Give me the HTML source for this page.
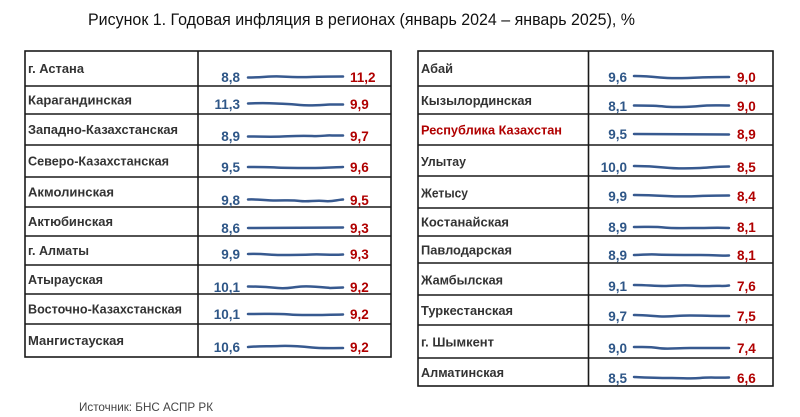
<!DOCTYPE html>
<html><head><meta charset="utf-8"><style>
html,body{margin:0;padding:0;background:#fff;}
svg{display:block;}
.t{font-family:"Liberation Sans","Noto Sans CJK SC",sans-serif;}
.lb{font-weight:bold;font-size:13px;fill:#333;}
.nb{font-weight:bold;font-size:13.5px;fill:#2e5687;}
.nr{font-weight:bold;font-size:13.5px;fill:#b00000;}
.sp{fill:none;stroke:#37598f;stroke-width:2.5;stroke-linecap:round;stroke-linejoin:round;}
.b{stroke:#1a1a1a;stroke-width:1.6;fill:none;}
</style></head><body>
<svg width="800" height="417" viewBox="0 0 800 417" xmlns="http://www.w3.org/2000/svg">
<rect width="800" height="417" fill="#fff"/>
<text class="t" x="88" y="25" font-size="17" fill="#111" textLength="547" lengthAdjust="spacingAndGlyphs">Рисунок 1. Годовая инфляция в регионах (январь 2024 – январь 2025), %</text>

<!-- LEFT TABLE -->
<rect class="b" x="25" y="51" width="366" height="306"/>
<line class="b" x1="198" y1="51" x2="198" y2="357"/>
<g class="b">
<line x1="25" y1="86" x2="391" y2="86"/>
<line x1="25" y1="114" x2="391" y2="114"/>
<line x1="25" y1="145" x2="391" y2="145"/>
<line x1="25" y1="177" x2="391" y2="177"/>
<line x1="25" y1="207" x2="391" y2="207"/>
<line x1="25" y1="236" x2="391" y2="236"/>
<line x1="25" y1="265" x2="391" y2="265"/>
<line x1="25" y1="294" x2="391" y2="294"/>
<line x1="25" y1="324" x2="391" y2="324"/>
</g>
<g class="t lb">
<text x="28" y="73" textLength="56" lengthAdjust="spacingAndGlyphs">г. Астана</text>
<text x="28" y="104.5" textLength="104" lengthAdjust="spacingAndGlyphs">Карагандинская</text>
<text x="28" y="134" textLength="150" lengthAdjust="spacingAndGlyphs">Западно-Казахстанская</text>
<text x="28" y="165.5" textLength="141" lengthAdjust="spacingAndGlyphs">Северо-Казахстанская</text>
<text x="28" y="196.5" textLength="86" lengthAdjust="spacingAndGlyphs">Акмолинская</text>
<text x="28" y="226" textLength="85" lengthAdjust="spacingAndGlyphs">Актюбинская</text>
<text x="28" y="255" textLength="61" lengthAdjust="spacingAndGlyphs">г. Алматы</text>
<text x="28" y="284" textLength="75" lengthAdjust="spacingAndGlyphs">Атырауская</text>
<text x="28" y="313.5" textLength="154" lengthAdjust="spacingAndGlyphs">Восточно-Казахстанская</text>
<text x="28" y="345" textLength="96" lengthAdjust="spacingAndGlyphs">Мангистауская</text>
</g>
<g class="t nb" text-anchor="end">
<text x="240" y="82">8,8</text>
<text x="240" y="109">11,3</text>
<text x="240" y="141">8,9</text>
<text x="240" y="172">9,5</text>
<text x="240" y="205">9,8</text>
<text x="240" y="233">8,6</text>
<text x="240" y="259">9,9</text>
<text x="240" y="292">10,1</text>
<text x="240" y="319">10,1</text>
<text x="240" y="352">10,6</text>
</g>
<g class="t nr">
<text x="350" y="82">11,2</text>
<text x="350" y="109">9,9</text>
<text x="350" y="141">9,7</text>
<text x="350" y="172">9,6</text>
<text x="350" y="205">9,5</text>
<text x="350" y="233">9,3</text>
<text x="350" y="259">9,3</text>
<text x="350" y="292">9,2</text>
<text x="350" y="319">9,2</text>
<text x="350" y="352">9,2</text>
</g>
<g class="sp">
<path d="M248 77.5 C262 77.5 270 76 280 76.5 S300 77.5 310 77 S330 76.5 343 76.5"/>
<path d="M248 103.5 C260 103 266 103 276 103.5 S290 104 300 105 S320 105 330 104.5 L343 104.5"/>
<path d="M248 136.5 C262 136.5 270 137 282 136.5 S300 135.5 312 136 S325 135 332 135.5 L343 135.5"/>
<path d="M248 167 C262 167 268 167 276 167.5 S296 168 310 168 S330 167.5 343 167"/>
<path d="M248 199.5 C258 199 264 200.5 276 200.5 S292 200 300 201 S316 200 324 201 S336 200 343 199.5"/>
<path d="M248 228 L343 227.5"/>
<path d="M248 254 C262 253.5 270 255 280 255 S300 255 312 254.5 S330 255.5 343 254.5"/>
<path d="M248 286.5 C260 286.5 268 287 278 288 S292 287 302 286.5 S320 287 330 288 L343 287.5"/>
<path d="M248 314 C270 314 280 313.5 290 314.5 S320 315 343 314.5"/>
<path d="M248 347 C258 346 268 346.5 280 346 S302 346.5 312 347.5 S330 348 343 348"/>
</g>

<!-- RIGHT TABLE -->
<rect class="b" x="418" y="51" width="355" height="335"/>
<line class="b" x1="588.5" y1="51" x2="588.5" y2="386"/>
<g class="b">
<line x1="418" y1="86" x2="773" y2="86"/>
<line x1="418" y1="114" x2="773" y2="114"/>
<line x1="418" y1="145" x2="773" y2="145"/>
<line x1="418" y1="176" x2="773" y2="176"/>
<line x1="418" y1="208" x2="773" y2="208"/>
<line x1="418" y1="236" x2="773" y2="236"/>
<line x1="418" y1="263" x2="773" y2="263"/>
<line x1="418" y1="295" x2="773" y2="295"/>
<line x1="418" y1="325" x2="773" y2="325"/>
<line x1="418" y1="358" x2="773" y2="358"/>
</g>
<g class="t lb">
<text x="421" y="73" textLength="32" lengthAdjust="spacingAndGlyphs">Абай</text>
<text x="421" y="105" textLength="111" lengthAdjust="spacingAndGlyphs">Кызылординская</text>
<text x="421" y="134.5" textLength="141" lengthAdjust="spacingAndGlyphs" style="fill:#b00000">Республика Казахстан</text>
<text x="421" y="166" textLength="45" lengthAdjust="spacingAndGlyphs">Улытау</text>
<text x="421" y="197.5" textLength="47" lengthAdjust="spacingAndGlyphs">Жетысу</text>
<text x="421" y="226.5" textLength="88" lengthAdjust="spacingAndGlyphs">Костанайская</text>
<text x="421" y="254.5" textLength="91" lengthAdjust="spacingAndGlyphs">Павлодарская</text>
<text x="421" y="284.5" textLength="82" lengthAdjust="spacingAndGlyphs">Жамбылская</text>
<text x="421" y="315" textLength="92" lengthAdjust="spacingAndGlyphs">Туркестанская</text>
<text x="421" y="346.5" textLength="73" lengthAdjust="spacingAndGlyphs">г. Шымкент</text>
<text x="421" y="377" textLength="83" lengthAdjust="spacingAndGlyphs">Алматинская</text>
</g>
<g class="t nb" text-anchor="end">
<text x="627" y="82">9,6</text>
<text x="627" y="111">8,1</text>
<text x="627" y="139">9,5</text>
<text x="627" y="172">10,0</text>
<text x="627" y="201">9,9</text>
<text x="627" y="232">8,9</text>
<text x="627" y="260">8,9</text>
<text x="627" y="291">9,1</text>
<text x="627" y="321">9,7</text>
<text x="627" y="353">9,0</text>
<text x="627" y="383">8,5</text>
</g>
<g class="t nr">
<text x="737" y="82">9,0</text>
<text x="737" y="111">9,0</text>
<text x="737" y="139">8,9</text>
<text x="737" y="172">8,5</text>
<text x="737" y="201">8,4</text>
<text x="737" y="232">8,1</text>
<text x="737" y="260">8,1</text>
<text x="737" y="291">7,6</text>
<text x="737" y="321">7,5</text>
<text x="737" y="353">7,4</text>
<text x="737" y="383">6,6</text>
</g>
<g class="sp">
<path d="M634 76 C644 76 650 76.5 660 77.5 S690 78 700 77.5 S716 77 729 77"/>
<path d="M634 105.5 C648 105.5 656 105.5 664 106.5 S690 107 700 106 S716 105.5 729 105.5"/>
<path d="M634 134 C660 134 690 134 729 134.5"/>
<path d="M634 166 C644 166 654 166.5 664 167.5 S690 168.5 700 168 S716 166.5 729 166.5"/>
<path d="M634 195 C646 195 656 195.5 666 196 S690 196.5 700 196 S716 195.5 729 195.5"/>
<path d="M634 227 C648 227 656 226.5 664 227.5 S690 228 700 228 S716 227.5 729 228"/>
<path d="M634 255 C642 255 648 254 656 254.5 S680 255 700 255 S714 256 729 255.5"/>
<path d="M634 285 C646 285 654 286 664 286 S680 285 690 285.5 S704 286.5 712 286 S722 286.5 729 285.5"/>
<path d="M634 315 C646 315 656 316.5 664 316.5 S680 315.5 690 315.5 S716 316 729 316"/>
<path d="M634 347 C644 347 650 346.5 658 348 S676 348 690 348 S716 348 729 348"/>
<path d="M634 377 C648 377.5 660 378 672 378 S690 379 700 378 S716 378 729 377.5"/>
</g>

<text class="t" x="79" y="411" font-size="12" fill="#444" textLength="134" lengthAdjust="spacingAndGlyphs">Источник: БНС АСПР РК</text>
</svg>
</body></html>
